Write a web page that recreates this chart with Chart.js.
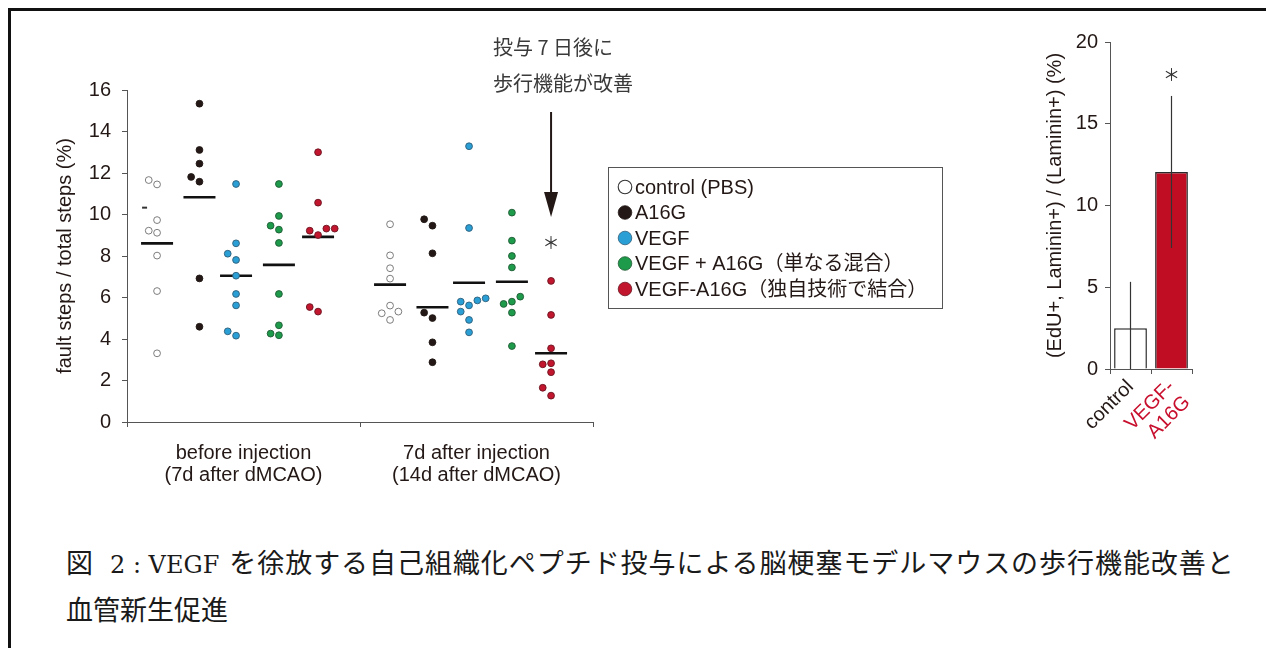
<!DOCTYPE html>
<html>
<head>
<meta charset="utf-8">
<script src="https://cdn.jsdelivr.net/npm/chart.js@4.4.1/dist/chart.umd.min.js"></script>
<style>
  html, body { margin: 0; padding: 0; background: #fff; width: 1266px; height: 648px; overflow: hidden; }
  #frame { position: absolute; left: 8px; top: 8px; width: 1400px; height: 800px; box-sizing: border-box;
           border-top: 3px solid #111; border-left: 3px solid #111; }
  #gait { position: absolute; left: 0; top: 0; }
  #vessel { position: absolute; left: 1000px; top: 0; }
  .cap { position: absolute; left: 66px; font-family: "Noto Sans CJK JP", sans-serif;
         font-size: 27px; line-height: 27px; color: #1a1a1a; white-space: pre; }
  .cap .n { margin-left: 17px; font-family: "DejaVu Serif", "Liberation Serif", serif; font-size: 24px; }
  .cap .j { margin-left: 10px; letter-spacing: 0.95px; }
</style>
</head>
<body>
<div id="frame"></div>
<canvas id="gait" width="960" height="520"></canvas>
<canvas id="vessel" width="266" height="520"></canvas>
<div class="cap" style="top:548px">図<span class="n">2 : VEGF</span><span class="j">を徐放する自己組織化ペプチド投与による脳梗塞モデルマウスの歩行機能改善と</span></div>
<div class="cap" style="top:595px">血管新生促進</div>

<script>
// ---- gait test: fault steps / total steps (%) per animal ----
const periodLabels = [['before injection', '(7d after dMCAO)'], ['7d after injection', '(14d after dMCAO)']];
const groupNames = ['control (PBS)', 'A16G', 'VEGF', 'VEGF + A16G（単なる混合）', 'VEGF-A16G（独自技術で結合）'];

const controlBefore = [11.45, 11.66, 9.73, 9.22, 9.12, 8.02, 6.31, 3.31];
const a16gBefore    = [15.34, 13.11, 12.45, 11.81, 11.58, 6.92, 4.59];
const vegfBefore    = [11.47, 8.61, 8.11, 7.81, 7.05, 6.17, 5.62, 4.37, 4.16];
const mixBefore     = [11.47, 9.93, 9.46, 9.27, 8.63, 6.17, 4.66, 4.26, 4.18];
const boundBefore   = [13.0, 10.57, 9.32, 9.22, 9.32, 9.01, 5.54, 5.32];

const controlAfter  = [9.53, 8.03, 7.41, 6.91, 5.61, 5.32, 5.24, 4.92];
const a16gAfter     = [9.77, 9.46, 8.13, 5.27, 5.01, 3.84, 2.88];
const vegfAfter     = [13.29, 9.35, 5.96, 5.86, 5.80, 5.62, 5.32, 4.92, 4.32];
const mixAfter      = [10.09, 8.74, 8.0, 7.45, 6.04, 5.80, 5.69, 5.27, 3.66];
const boundAfter    = [6.80, 5.16, 3.55, 2.83, 2.78, 2.40, 1.65, 1.27];

const meansBefore = [8.61, 10.83, 7.05, 7.57, 8.92];
const meansAfter  = [6.62, 5.53, 6.71, 6.76, 3.31];
const controlBeforeDash = [10.33];

const gaitTicks = { min: 0, max: 16, step: 2 };
const significanceLevel = 8.65;   // "*" over VEGF-A16G after injection

// ---- EdU+ Laminin+ vessels ----
const barLabels = ['control', ['VEGF-', 'A16G']];
const barValues = [2.5, 12.05];
const barErrors = [2.83, 4.65];
const vesselTicks = { min: 0, max: 20, step: 5 };

// ---- appearance ----
const groupFill   = ['#ffffff', '#231815', '#2a9fd6', '#1e9a4b', '#c1162e'];
const groupStroke = ['#6e6e6e', '#231815', '#2f5d78', '#1f5a34', '#6a1420'];
const groupPos = [0.129, 0.311, 0.468, 0.652, 0.820];   // offset of each group inside a period
const dodgeStep = 0.0357;                              // horizontal shift between overlapping dots
const overlap = 0.43;                                  // value gap under which dots would touch
const inkColor = '#231815';
const axisColor = '#555555';
const sansFont = '"Liberation Sans", "Noto Sans CJK JP", sans-serif';

Chart.defaults.font.family = sansFont;
Chart.defaults.color = inkColor;

// beeswarm-like dodge: lowest values stay centred, neighbours step sideways
function dodge(values) {
  const order = values.map((v, i) => i).sort((a, b) => values[a] - values[b]);
  const slots = new Array(values.length);
  const placed = [];
  const candidates = [0, -1, 1, 2, -2, 3, -3];
  for (const i of order) {
    for (const c of candidates) {
      if (!placed.some(p => p.slot === c && Math.abs(p.v - values[i]) < overlap)) {
        slots[i] = c; placed.push({ slot: c, v: values[i] }); break;
      }
    }
  }
  return slots;
}

function groupPoints(g, before, after) {
  const pts = [];
  [before, after].forEach((vals, period) => {
    const slots = dodge(vals);
    vals.forEach((v, i) => pts.push({ x: period + groupPos[g] + slots[i] * dodgeStep, y: v }));
  });
  return pts;
}

const series = [
  [controlBefore, controlAfter], [a16gBefore, a16gAfter], [vegfBefore, vegfAfter],
  [mixBefore, mixAfter], [boundBefore, boundAfter]
];

const dotSets = series.map((s, g) => ({
  label: groupNames[g],
  data: groupPoints(g, s[0], s[1]),
  backgroundColor: groupFill[g],
  borderColor: groupStroke[g],
  borderWidth: 0.9,
  pointRadius: 3.4,
  pointHoverRadius: 3.4
}));

const meanSet = {
  label: 'mean',
  data: meansBefore.map((m, g) => ({ x: groupPos[g], y: m }))
        .concat(meansAfter.map((m, g) => ({ x: 1 + groupPos[g], y: m }))),
  pointStyle: 'line', pointRadius: 16, pointHoverRadius: 16,
  borderColor: '#111', borderWidth: 2.6, backgroundColor: '#111'
};

const dashSet = {
  label: 'dash',
  data: controlBeforeDash.map(v => ({ x: groupPos[0] - 1.5 * dodgeStep, y: v })),
  pointStyle: 'line', pointRadius: 2.5, borderColor: '#333', borderWidth: 2
};

// legend box, arrow note and significance mark for the gait panel
const gaitDecor = {
  id: 'gaitDecor',
  afterDraw(chart) {
    const { ctx, scales: { x, y } } = chart;
    ctx.save();
    // legend
    ctx.strokeStyle = '#555'; ctx.lineWidth = 1;
    ctx.strokeRect(608.5, 167.5, 334, 141);
    ctx.font = '20px ' + sansFont;
    ctx.textBaseline = 'middle'; ctx.textAlign = 'left';
    groupNames.forEach((name, g) => {
      const cy = 187 + g * 25.5;
      ctx.beginPath(); ctx.arc(625, cy, 6.8, 0, Math.PI * 2);
      ctx.fillStyle = groupFill[g]; ctx.fill();
      ctx.lineWidth = g === 0 ? 1.1 : 0.8; ctx.strokeStyle = g === 0 ? '#333' : groupStroke[g]; ctx.stroke();
      ctx.fillStyle = inkColor;
      ctx.fillText(name, 635, cy + 1);
    });
    // note above the arrow
    ctx.fillStyle = '#3a3a3a';
    ctx.font = '20px "Noto Sans CJK JP", sans-serif';
    ctx.fillText('投与 7 日後に', 493, 47);
    ctx.fillText('歩行機能が改善', 493, 83);
    // arrow pointing at VEGF-A16G after injection
    const ax = x.getPixelForValue(1 + groupPos[4]);
    ctx.strokeStyle = inkColor; ctx.fillStyle = inkColor; ctx.lineWidth = 2;
    ctx.beginPath(); ctx.moveTo(ax, 112); ctx.lineTo(ax, 196); ctx.stroke();
    ctx.beginPath(); ctx.moveTo(ax - 7, 192); ctx.lineTo(ax + 7, 192); ctx.lineTo(ax, 217); ctx.closePath(); ctx.fill();
    // significance
    ctx.fillStyle = '#333';
    ctx.font = '17px "Noto Sans CJK JP", sans-serif';
    ctx.textAlign = 'center';
    ctx.fillText('＊', ax, y.getPixelForValue(significanceLevel));
    ctx.restore();
  }
};

new Chart(document.getElementById('gait'), {
  type: 'scatter',
  data: { datasets: [...dotSets, dashSet, meanSet] },
  options: {
    responsive: false, animation: false, events: [],
    layout: { padding: { left: 0, right: 367, top: 90, bottom: 0 } },
    plugins: { legend: { display: false }, tooltip: { enabled: false } },
    scales: {
      x: {
        type: 'linear', min: 0, max: 2,
        ticks: {
          stepSize: 0.5, autoSkip: false, maxRotation: 0, padding: 15,
          font: { size: 20, lineHeight: 1.1 }, color: inkColor,
          callback: v => v === 0.5 ? periodLabels[0] : (v === 1.5 ? periodLabels[1] : '')
        },
        grid: {
          drawOnChartArea: false, tickLength: 5, lineWidth: 1,
          color: c => (c.tick && Number.isInteger(c.tick.value)) ? axisColor : 'rgba(0,0,0,0)'
        },
        border: { color: axisColor, width: 1 },
        afterFit(s) { s.height = 98; }
      },
      y: {
        min: gaitTicks.min, max: gaitTicks.max,
        ticks: { stepSize: gaitTicks.step, padding: 11, font: { size: 20 }, color: inkColor },
        grid: { drawOnChartArea: false, tickLength: 5, color: axisColor },
        border: { color: axisColor, width: 1 },
        title: { display: true, text: 'fault steps / total steps (%)', font: { size: 20 }, color: inkColor,
                 padding: { top: 53, bottom: 0 } },
        afterFit(s) { s.width = 127; }
      }
    }
  },
  plugins: [gaitDecor]
});

// error bars and significance for the vessel panel
const vesselDecor = {
  id: 'vesselDecor',
  afterDatasetsDraw(chart) {
    const { ctx, scales: { x, y } } = chart;
    ctx.save();
    ctx.strokeStyle = '#333'; ctx.lineWidth = 1.2;
    barValues.forEach((v, i) => {
      const px = x.getPixelForValue(i);
      ctx.beginPath();
      ctx.moveTo(px, y.getPixelForValue(Math.max(vesselTicks.min, v - barErrors[i])));
      ctx.lineTo(px, y.getPixelForValue(v + barErrors[i]));
      ctx.stroke();
    });
    ctx.fillStyle = '#333';
    ctx.font = '17px "Noto Sans CJK JP", sans-serif';
    ctx.textAlign = 'center'; ctx.textBaseline = 'middle';
    ctx.fillText('＊', x.getPixelForValue(1), y.getPixelForValue(barValues[1] + barErrors[1]) - 21);
    ctx.restore();
  }
};

new Chart(document.getElementById('vessel'), {
  type: 'bar',
  data: {
    labels: barLabels,
    datasets: [{
      data: barValues,
      backgroundColor: ['#ffffff', '#c10d23'],
      borderColor: '#2a2a2a', borderWidth: 1.5,
      barPercentage: 0.8, categoryPercentage: 1
    }]
  },
  options: {
    responsive: false, animation: false, events: [],
    layout: { padding: { left: 0, right: 74, top: 42, bottom: 0 } },
    plugins: { legend: { display: false }, tooltip: { enabled: false } },
    scales: {
      x: {
        ticks: {
          autoSkip: false, minRotation: 45, maxRotation: 45, padding: 2,
          font: { size: 20, lineHeight: 1.1 },
          color: c => c.index === 1 ? '#c8102e' : inkColor
        },
        grid: { drawOnChartArea: false, tickLength: 5, color: axisColor, offset: true },
        border: { color: axisColor, width: 1 },
        afterFit(s) { s.height = 151; }
      },
      y: {
        min: vesselTicks.min, max: vesselTicks.max,
        ticks: { stepSize: vesselTicks.step, padding: 7, font: { size: 20 }, color: inkColor },
        grid: { drawOnChartArea: false, tickLength: 5, color: axisColor },
        border: { color: axisColor, width: 1 },
        title: { display: true, text: '(EdU+, Laminin+) / (Laminin+) (%)', font: { size: 20 }, color: inkColor,
                 padding: { top: 43, bottom: 0 } },
        afterFit(s) { s.width = 110; }
      }
    }
  },
  plugins: [vesselDecor]
});
</script>
</body>
</html>
